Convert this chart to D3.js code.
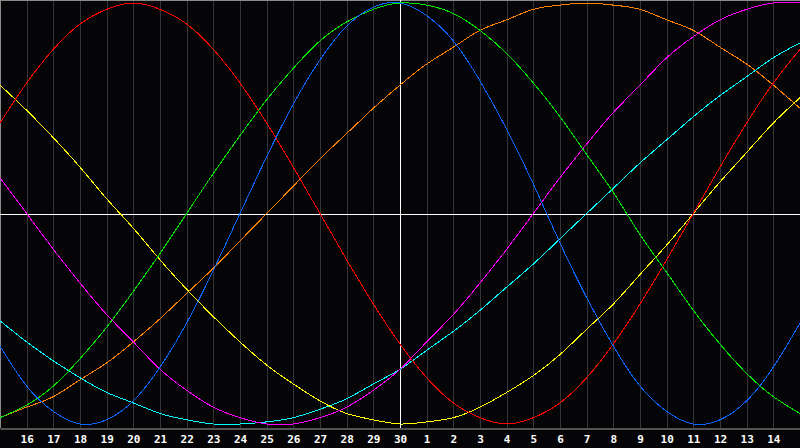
<!DOCTYPE html>
<html><head><meta charset="utf-8">
<script src="https://cdn.jsdelivr.net/npm/d3@7"></script>
<style>
html,body{margin:0;padding:0;background:#050507;}
svg{display:block;}
</style></head>
<body>
<svg id="chart" width="800" height="448"></svg>
<script>
// Day labels (t = 0 .. 30), 15th of one month to 15th of the next
const dayLabels = ["15","16","17","18","19","20","21","22","23","24","25","26","27","28","29","30",
  "1","2","3","4","5","6","7","8","9","10","11","12","13","14","15"];

// Cycle values, one per day (range -1 .. 1)
const red = [0.43,0.62,0.78,0.90,0.97,1.00,0.97,0.90,0.78,0.62,0.43,0.22,0.00,-0.22,-0.43,-0.62,
  -0.78,-0.90,-0.97,-1.00,-0.97,-0.90,-0.78,-0.62,-0.43,-0.22,0.00,0.22,0.43,0.62,0.78];
const blue = [-0.63,-0.82,-0.94,-1.00,-0.98,-0.89,-0.73,-0.52,-0.27,0.00,0.27,0.52,0.73,0.89,0.98,1.00,
  0.94,0.82,0.63,0.40,0.14,-0.14,-0.40,-0.63,-0.82,-0.94,-1.00,-0.98,-0.89,-0.73,-0.52];
const green = [-0.97,-0.91,-0.82,-0.69,-0.54,-0.37,-0.19,0.00,0.19,0.37,0.54,0.69,0.82,0.91,0.97,1.00,
  0.99,0.95,0.87,0.76,0.62,0.46,0.28,0.10,-0.10,-0.28,-0.46,-0.62,-0.76,-0.87,-0.95];
const magenta = [0.17,0.00,-0.17,-0.33,-0.48,-0.61,-0.74,-0.84,-0.92,-0.97,-1.00,-1.00,-0.97,-0.92,-0.84,-0.74,
  -0.61,-0.48,-0.33,-0.17,0.00,0.17,0.33,0.48,0.61,0.74,0.84,0.92,0.97,1.00,1.00];
const yellow = [0.61,0.49,0.36,0.22,0.07,-0.07,-0.22,-0.36,-0.49,-0.61,-0.72,-0.81,-0.89,-0.95,-0.98,-1.00,
  -0.99,-0.97,-0.92,-0.85,-0.77,-0.67,-0.55,-0.43,-0.29,-0.15,0.00,0.15,0.29,0.43,0.55];
const orange = [-0.97,-0.92,-0.87,-0.79,-0.71,-0.61,-0.50,-0.38,-0.26,-0.13,0.00,0.13,0.26,0.38,0.50,0.61,
  0.71,0.79,0.87,0.92,0.97,0.99,1.00,0.99,0.97,0.92,0.87,0.79,0.71,0.61,0.50];
const cyan = [-0.51,-0.61,-0.70,-0.78,-0.85,-0.90,-0.95,-0.98,-1.00,-1.00,-0.99,-0.97,-0.93,-0.88,-0.81,-0.74,
  -0.65,-0.56,-0.46,-0.35,-0.24,-0.12,0.00,0.12,0.24,0.35,0.46,0.56,0.65,0.74,0.81];

const seriesNames = ["orange","cyan","yellow","magenta","red","green","blue"];
const seriesValues = [orange, cyan, yellow, magenta, red, green, blue];
const seriesColors = ["#ff8000","#00ffff","#ffff00","#ff00ff","#ff0000","#00e600","#0a64ff"];
const todayIndex = 15;

const W = 800, plotBottom = 428;
const svg = d3.select("#chart");
svg.append("rect").attr("width", 800).attr("height", 448).attr("fill", "#050507");

const x = d3.scaleLinear().domain([0, dayLabels.length - 1]).range([0, W]);
const y = d3.scaleLinear().domain([-1, 1]).range([424, 3]);

// vertical grid (one line per day)
svg.append("g").selectAll("line").data(d3.range(1, dayLabels.length - 1)).join("line")
  .attr("x1", d => Math.round(x(d)) + 0.5).attr("x2", d => Math.round(x(d)) + 0.5)
  .attr("y1", 0).attr("y2", plotBottom)
  .attr("stroke", "#353538").attr("stroke-width", 1);

// frame: top and left
svg.append("line").attr("x1", 0).attr("x2", W).attr("y1", 0.5).attr("y2", 0.5).attr("stroke", "#8a8a8a");
svg.append("line").attr("x1", 0.5).attr("x2", 0.5).attr("y1", 0).attr("y2", plotBottom).attr("stroke", "#8a8a8a");

// zero line and today line
const y0 = Math.round(y(0)) + 0.5;
svg.append("line").attr("x1", 0).attr("x2", W).attr("y1", y0).attr("y2", y0).attr("stroke", "#ffffff");
const xt = Math.round(x(todayIndex)) + 0.5;
svg.append("line").attr("x1", xt).attr("x2", xt).attr("y1", 0).attr("y2", plotBottom).attr("stroke", "#ffffff");

// curves
const line = d3.line().x((d, i) => x(i)).y(d => y(d)).curve(d3.curveNatural);
svg.append("g").selectAll("path").data(seriesValues).join("path")
  .attr("d", d => line(d))
  .attr("fill", "none")
  .attr("stroke", (d, i) => seriesColors[i])
  .attr("stroke-width", 1)
  .attr("shape-rendering", "crispEdges");

// bottom axis
const axis = d3.axisBottom(x)
  .tickValues(d3.range(1, dayLabels.length - 1))
  .tickFormat(d => dayLabels[d])
  .tickSize(0).tickSizeOuter(0).tickPadding(7);
const ax = svg.append("g").attr("transform", `translate(0,${plotBottom + 0.5})`).call(axis);
ax.select(".domain").attr("stroke", "#a0a0a0").attr("stroke-width", 1);
ax.selectAll("text")
  .attr("fill", "#ffffff")
  .attr("font-family", "'DejaVu Sans Mono', monospace")
  .attr("font-weight", "bold")
  .attr("font-size", 11);
</script>
</body></html>
